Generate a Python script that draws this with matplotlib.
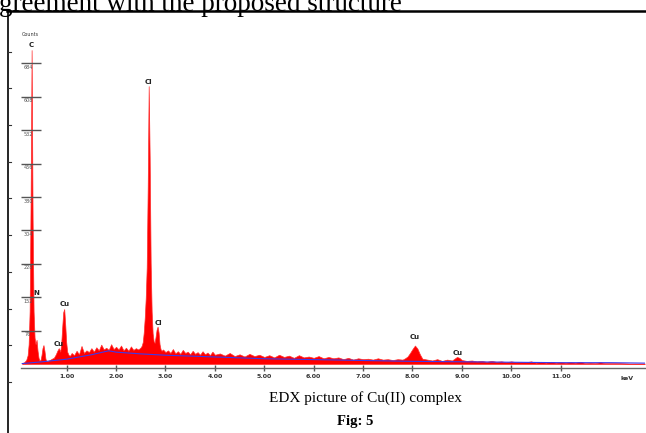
import matplotlib
matplotlib.use('Agg')
import matplotlib.pyplot as plt
from matplotlib.lines import Line2D

# ---------------------------
# spectrum (keV, counts)
energy = [0.10, 0.14, 0.18, 0.21, 0.23, 0.25, 0.27, 0.29, 0.31, 0.33, 0.35, 0.37, 0.39, 0.41, 0.43,
          0.45, 0.47, 0.49, 0.51, 0.53, 0.55, 0.57, 0.59, 0.62, 0.66, 0.70, 0.74, 0.78, 0.81, 0.84,
          0.87, 0.89, 0.91, 0.93, 0.95, 0.97, 0.99, 1.01, 1.04, 1.07,
          1.10, 1.15, 1.20, 1.25, 1.30, 1.35, 1.40, 1.45, 1.50, 1.55, 1.60, 1.65, 1.70, 1.75, 1.80,
          1.85, 1.90, 1.95, 2.00, 2.05, 2.10, 2.15, 2.20, 2.25, 2.30, 2.35, 2.40, 2.45, 2.50,
          2.52, 2.54, 2.56, 2.58, 2.60, 2.62, 2.64, 2.66, 2.68, 2.70, 2.72, 2.74, 2.76, 2.78, 2.80,
          2.82, 2.84, 2.86, 2.88, 2.90, 2.92,
          2.95, 3.00, 3.05, 3.10, 3.15, 3.20, 3.25, 3.30, 3.35, 3.40, 3.45, 3.50, 3.55, 3.60, 3.65,
          3.70, 3.75, 3.80, 3.85, 3.90, 3.95, 4.00,
          4.1, 4.2, 4.3, 4.4, 4.5, 4.6, 4.7, 4.8, 4.9, 5.0, 5.1, 5.2, 5.3, 5.4, 5.5, 5.6, 5.7, 5.8,
          5.9, 6.0, 6.1, 6.2, 6.3, 6.4, 6.5, 6.6, 6.7, 6.8, 6.9, 7.0, 7.1, 7.2, 7.3, 7.4, 7.5, 7.6,
          7.7, 7.8, 7.85, 7.90, 7.95, 8.00, 8.05, 8.10, 8.15, 8.20, 8.3, 8.4, 8.5, 8.6, 8.7, 8.8,
          8.85, 8.90, 8.95, 9.00, 9.1, 9.2, 9.3, 9.4, 9.5, 9.6, 9.7, 9.8, 9.9, 10.0, 10.1, 10.2,
          10.3, 10.4, 10.5, 10.6, 10.7, 10.8, 10.9, 11.0, 11.1, 11.2, 11.3, 11.4, 11.5, 11.6, 11.7,
          11.8, 11.9, 12.0, 12.2, 12.4, 12.7]
counts = [2, 4, 9, 20, 45, 120, 380, 714, 330, 120, 60, 45, 55, 30, 14,
          8, 9, 20, 36, 43, 30, 12, 6, 7, 9, 12, 14, 22, 30, 36,
          28, 48, 85, 118, 125, 90, 50, 28, 20, 19,
          25, 20, 30, 22, 41, 25, 31, 27, 36, 28, 38, 31, 44, 33, 37,
          32, 45, 34, 39, 33, 42, 31, 37, 30, 40, 32, 36, 33, 38,
          42, 50, 72, 105, 150, 220, 400, 632, 470, 230, 120, 70, 52, 48, 62,
          78, 85, 72, 45, 34, 30,
          33, 27, 31, 25, 34, 24, 29, 23, 32, 25, 28, 22, 30, 23, 27,
          21, 29, 22, 26, 20, 28, 21,
          24, 19, 25, 18, 22, 17, 23, 18, 21, 16, 20, 15, 21, 16, 19, 14, 20, 15,
          17, 14, 18, 13, 16, 13, 15, 11, 14, 10, 13, 11, 12, 10, 13, 10, 11, 9,
          11, 10, 13, 17, 25, 34, 42, 35, 22, 12, 10, 8, 11, 7, 10, 8,
          12, 16, 14, 9, 7, 8, 6, 7, 5, 7, 5, 6, 4, 6, 4, 5,
          4, 6, 3, 5, 3, 5, 3, 4, 3, 4, 3, 5, 2, 3, 2,
          4, 2, 2, 2, 1, 1]

# fitted background (blue line)
bg_energy = [0.10, 0.50, 1.00, 1.50, 1.85, 2.00, 2.50, 3.00, 4.00, 5.00, 6.00, 7.00, 8.00,
             9.00, 10.00, 11.00, 12.00, 12.70]
bg_counts = [1, 5, 11, 21, 30, 27, 23, 20, 16, 12, 10, 8, 6, 5, 4, 3, 3, 2]

# peak labels
peak_names = ['C', 'N', 'Cu', 'Cu', 'Cl', 'Cl', 'Cu', 'Cu']
peak_energy = [0.29, 0.39, 0.95, 0.845, 2.66, 2.85, 8.05, 8.92]
peak_label_y = [726, 162, 137, 46, 642, 93, 61, 26]

y_ticks = [76, 152, 228, 304, 380, 456, 532, 608, 684]
x_ticks = [1, 2, 3, 4, 5, 6, 7, 8, 9, 10, 11]
# ---------------------------

W, H = 646, 433
def fx(px):
    return px / W
def fy(py):
    return 1 - py / H

fig = plt.figure(figsize=(W / 100, H / 100), dpi=100)
ax = fig.add_axes([fx(20.7), fy(368), (645 - 20.7) / W, (368 - 40) / H])
ax.set_xlim(0.069, 12.707)
ax.set_ylim(-9.1, 737)

ax.fill_between(energy, counts, 0, color='red', lw=0.5, edgecolor='#ff3030')
ax.plot(bg_energy, bg_counts, color='#3a3aee', lw=0.8)

for name, e, y in zip(peak_names, peak_energy, peak_label_y):
    ax.text(e, y, name, fontsize=5, fontweight='bold', ha='center', va='center', color='#222222')

for s in ['top', 'right', 'left']:
    ax.spines[s].set_visible(False)
ax.spines['bottom'].set_color('#666666')
ax.spines['bottom'].set_linewidth(1.0)

ax.set_xticks(x_ticks)
ax.set_xticklabels(['%.2f' % v for v in x_ticks])
ax.tick_params(axis='x', direction='inout', length=5, width=1, color='#555555',
               labelsize=4.5, pad=2, labelcolor='#333333')
for lab in ax.get_xticklabels():
    lab.set_fontweight('bold')

ax.set_yticks(y_ticks)
ax.tick_params(axis='y', direction='in', length=14.5, width=1, color='#555555', labelleft=False)
for v in y_ticks:
    ax.annotate(str(v), xy=(0, v), xycoords=('axes fraction', 'data'), xytext=(5.3, -3),
                textcoords='offset points', fontsize=3.5, ha='center', va='center', color='#555555')

fig.text(fx(627), fy(378), 'keV', fontsize=4.5, fontweight='bold', ha='center', va='center', color='#333333')
fig.text(fx(30), fy(35), 'Counts', fontsize=3.5, ha='center', va='center', color='#333333')

# document frame around the picture
fig.add_artist(Line2D([fx(8), fx(8)], [fy(10), fy(433)], color='black', lw=1.2))
fig.add_artist(Line2D([fx(7), 1], [fy(10.5), fy(10.5)], color='black', lw=1.8))
for k in range(10):
    yy = 51.7 + 36.7 * k
    fig.add_artist(Line2D([fx(8), fx(11)], [fy(yy), fy(yy)], color='#333333', lw=0.8))

# running text of the page, cut at the top edge as in the scan
fig.text(fx(-1), fy(11), 'greement with the proposed structure', fontsize=19.5,
         family='Liberation Serif', va='baseline', ha='left')
fig.text(fx(365), fy(398), 'EDX picture of Cu(II) complex', fontsize=11,
         family='Liberation Serif', ha='center', va='center')
fig.text(fx(355), fy(421), 'Fig: 5', fontsize=10.5, fontweight='bold',
         family='Liberation Serif', ha='center', va='center')

fig.savefig('out.png', dpi=100)
